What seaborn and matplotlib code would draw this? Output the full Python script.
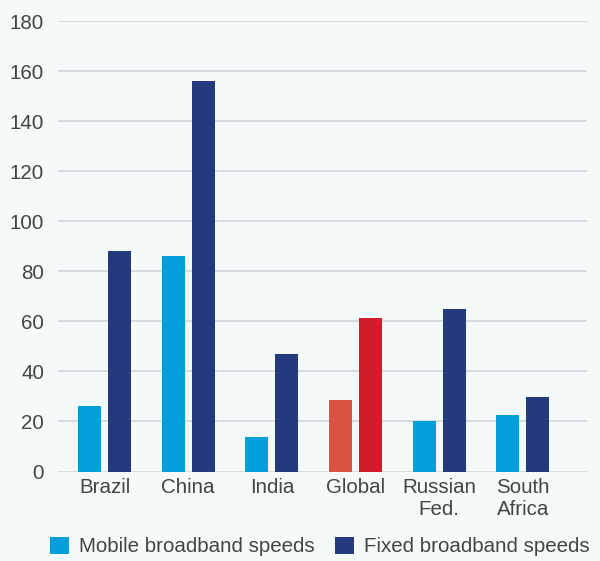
import matplotlib
matplotlib.use("Agg")
import matplotlib.pyplot as plt
from matplotlib.patches import Patch
import seaborn as sns
import pandas as pd

# Broadband speeds by country (Mbps)
countries = ["Brazil", "China", "India", "Global", "Russian\nFed.", "South\nAfrica"]
mobile_speeds = [26, 86, 14, 28.7, 20.2, 22.6]
fixed_speeds = [88, 156, 47, 61.4, 65, 29.8]
series_names = ["Mobile broadband speeds", "Fixed broadband speeds"]
y_ticks = [0, 20, 40, 60, 80, 100, 120, 140, 160, 180]

BG = "#f4f9fa"
MOBILE = "#009fda"
FIXED = "#243a7d"
GLOBAL_MOBILE = "#d85545"
GLOBAL_FIXED = "#cf1e29"
TEXT = "#444444"
GRID = "#d3d6d8"
FS = 14.8

df = pd.DataFrame({
    "country": countries * 2,
    "speed": mobile_speeds + fixed_speeds,
    "series": [series_names[0]] * len(countries) + [series_names[1]] * len(countries),
})

sns.set_theme(style="white")
plt.rcParams["font.family"] = ["Liberation Sans", "DejaVu Sans"]

fig = plt.figure(figsize=(6.0, 5.61), dpi=100, facecolor=BG)
ax = fig.add_axes([0.0967, 0.1595, 0.8816, 0.8025], facecolor=BG)

sns.barplot(data=df, x="country", y="speed", hue="series", order=countries,
            hue_order=series_names, palette=[MOBILE, FIXED],
            width=0.717, gap=0.233, saturation=1, legend=False, ax=ax)

# Highlight the global average in red tones
g = countries.index("Global")
bars = [p for p in ax.patches if p.get_height() > 0]
n = len(countries)
bars[g].set_facecolor(GLOBAL_MOBILE)
bars[n + g].set_facecolor(GLOBAL_FIXED)
for b in bars:
    b.set_edgecolor("none")

ax.set_ylim(0, 180)
ax.set_xlim(-0.556, 5.765)
ax.set_yticks(y_ticks)
ax.yaxis.grid(True, color=GRID, linewidth=1.2)
ax.set_axisbelow(True)
for s in ax.spines.values():
    s.set_visible(False)
ax.set_xlabel("")
ax.set_ylabel("")
ax.tick_params(axis="both", length=0, labelsize=FS, labelcolor=TEXT)
ax.tick_params(axis="y", pad=10)
ax.tick_params(axis="x", pad=5)
for lbl in ax.get_xticklabels():
    lbl.set_linespacing(1.14)

handles = [Patch(facecolor=MOBILE, edgecolor="none"), Patch(facecolor=FIXED, edgecolor="none")]
fig.legend(handles, series_names, loc="center", bbox_to_anchor=(0.533, 0.026),
           ncol=2, frameon=False, fontsize=FS, labelcolor=TEXT,
           handlelength=0.92, handleheight=0.92, handletextpad=0.49,
           columnspacing=1.0, borderpad=0)

fig.savefig("out.png", dpi=100, facecolor=BG)
